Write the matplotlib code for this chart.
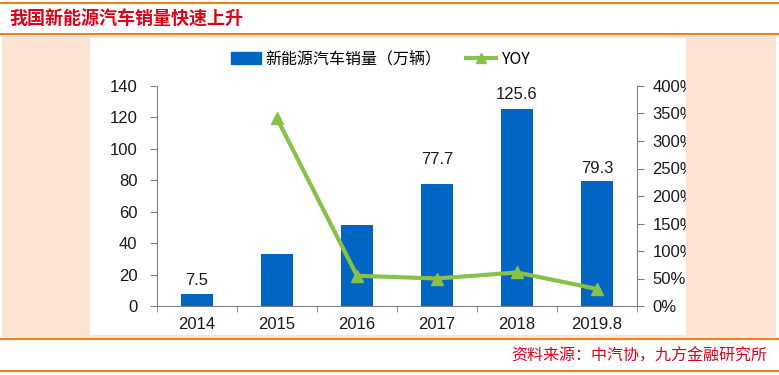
import matplotlib
matplotlib.use("Agg")
import matplotlib.pyplot as plt
from matplotlib.patches import Rectangle
from matplotlib.lines import Line2D
import numpy as np

plt.rcParams['font.family'] = ['Liberation Sans', 'Noto Sans CJK SC', 'DejaVu Sans']

categories = ['2014', '2015', '2016', '2017', '2018', '2019.8']
sales = [7.5, 33.1, 51.7, 77.7, 125.6, 79.3]
yoy = [None, 341, 55, 50, 61, 31]
label_vals = {0: '7.5', 3: '77.7', 4: '125.6', 5: '79.3'}
left_ticks = [0, 20, 40, 60, 80, 100, 120, 140]
right_ticks = [0, 50, 100, 150, 200, 250, 300, 350, 400]

W, H = 779, 375
fig = plt.figure(figsize=(W / 100, H / 100), dpi=100)
fig.patch.set_facecolor('white')

def fx(px):
    return px / W

def fy(py):
    return 1 - py / H

orange = '#F0801E'
peach = '#FDE3D3'
red = '#D9001B'
blue = '#0066C2'
green = '#88C04A'
gray = '#808080'
txtc = '#1a1a1a'

# decorative frame
fig.add_artist(Line2D([fx(0), fx(779)], [fy(2.5), fy(2.5)], color=orange, lw=1.5))
fig.add_artist(Line2D([fx(0), fx(779)], [fy(34), fy(34)], color=orange, lw=1.5))
fig.add_artist(Line2D([fx(0), fx(779)], [fy(339), fy(339)], color=orange, lw=1.5))
fig.add_artist(Line2D([fx(0), fx(779)], [fy(371), fy(371)], color=orange, lw=1.5))
fig.add_artist(Rectangle((fx(2), fy(337)), fx(774), (337 - 36) / H, color=peach, lw=0, zorder=-2))
fig.add_artist(Rectangle((fx(90), fy(335)), fx(596), (335 - 38) / H, color='white', lw=0, zorder=-1))

fig.text(fx(9), fy(19), '我国新能源汽车销量快速上升', color=red, fontsize=13, fontweight='bold',
         va='center', ha='left', family=['Noto Sans CJK SC', 'DejaVu Sans'])
fig.text(fx(767), fy(356), '资料来源：中汽协，九方金融研究所', color=red, fontsize=11.5,
         va='center', ha='right', family=['Noto Sans CJK SC', 'DejaVu Sans'])

ax = fig.add_axes([fx(157), fy(306), fx(480), 220 / H])
ax.set_facecolor('none')
x = np.arange(len(categories))
ax.bar(x, sales, width=0.39, color=blue, zorder=2)
ax.set_xlim(-0.5, len(categories) - 0.5)
ax.set_ylim(0, 140)
ax.set_yticks(left_ticks)
ax.set_xticks(x)
ax.set_xticklabels(categories)
ax.set_xticks(np.arange(-0.5, len(categories), 1), minor=True)
ax.tick_params(axis='x', which='major', length=0, pad=8, labelsize=12, colors=txtc)
ax.tick_params(axis='x', which='minor', length=4, color=gray, direction='out')
ax.tick_params(axis='y', length=5, color=gray, labelsize=12, labelcolor=txtc, pad=9)
for s in ['top', 'right']:
    ax.spines[s].set_visible(False)
ax.spines['left'].set_color(gray)
ax.spines['bottom'].set_color(gray)

offsets = {0: 9, 3: 15.8, 4: 8.7, 5: 8.5}
for i, txt in label_vals.items():
    ax.text(x[i], sales[i] + offsets[i], txt, ha='center', va='center', fontsize=12, color=txtc)

ax2 = ax.twinx()
ax2.set_ylim(0, 400)
ax2.set_yticks(right_ticks)
ax2.set_yticklabels([f'{v}%' for v in right_ticks])
ax2.tick_params(axis='y', length=5, color=gray, labelsize=12, labelcolor=txtc, pad=6)
for s in ['top', 'left', 'bottom']:
    ax2.spines[s].set_visible(False)
ax2.spines['right'].set_color(gray)
yx = [i for i, v in enumerate(yoy) if v is not None]
yv = [v for v in yoy if v is not None]
ax2.plot(yx, yv, color=green, lw=3, marker='^', markersize=9, zorder=3)

# clip right labels like the reference image edge
fig.add_artist(Rectangle((fx(686), fy(337)), fx(90), (337 - 36) / H, color=peach, lw=0, zorder=10))

handles = [Rectangle((0, 0), 1, 1, color=blue),
           Line2D([0], [0], color=green, lw=3, marker='^', markersize=7)]
leg = fig.legend(handles, ['新能源汽车销量（万辆）', 'YOY'], loc='center', bbox_to_anchor=(fx(380), fy(59)),
                 ncol=2, frameon=False, handlelength=1.9, columnspacing=1.5,
                 handletextpad=0.3, prop={'family': ['Noto Sans CJK SC', 'DejaVu Sans'], 'size': 11.5})

fig.savefig('out.png', dpi=100, facecolor='white')
